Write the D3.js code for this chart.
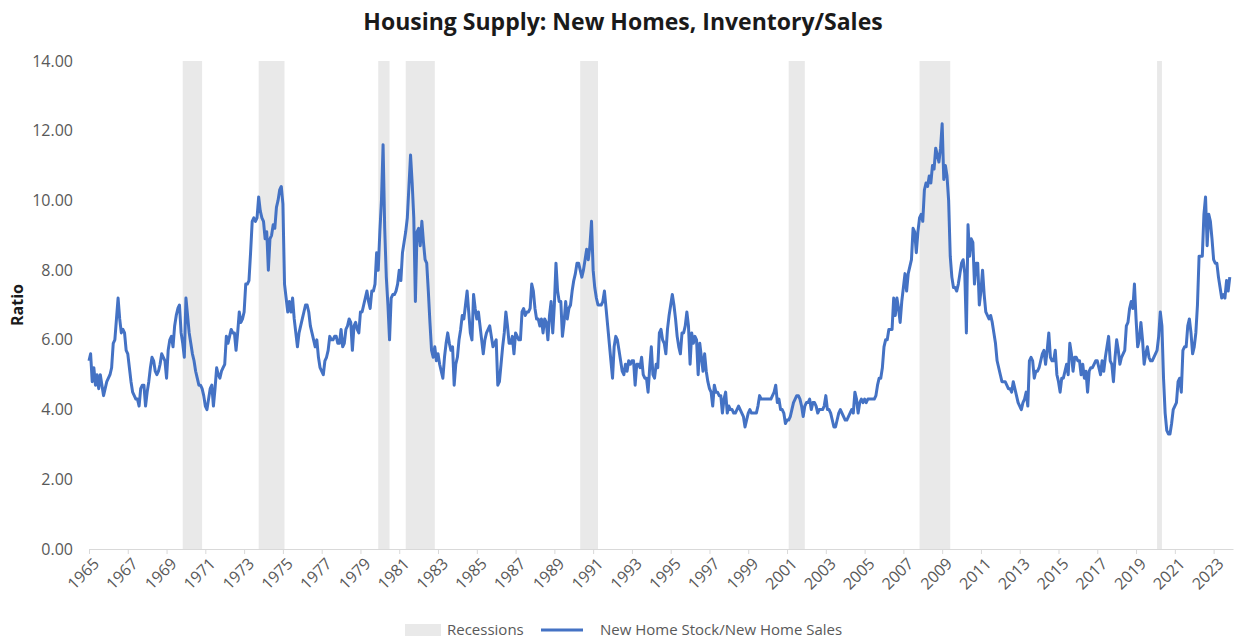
<!DOCTYPE html>
<html>
<head>
<meta charset="utf-8">
<script src="https://cdn.jsdelivr.net/npm/d3@7"></script>
<style>
  body { margin: 0; background: #fff; }
  svg { display: block; font-family: "Open Sans", "Noto Sans", sans-serif; }
</style>
</head>
<body>
<div id="chart"></div>
<script>

// monthly months-of-supply ratio, Jan 1965 .. Nov 2023 (one row per year)
var startYear = 1965;
var ratio = [
  5.4, 5.6, 4.8, 5.2, 4.7, 5.0, 4.6, 5.0, 4.7, 4.4, 4.6, 4.8,   // 1965
  4.9, 5.0, 5.2, 5.9, 6.0, 6.6, 7.2, 6.6, 6.2, 6.3, 6.2, 5.7,   // 1966
  5.6, 5.2, 4.8, 4.5, 4.4, 4.3, 4.3, 4.1, 4.6, 4.7, 4.7, 4.1,   // 1967
  4.5, 4.8, 5.2, 5.5, 5.4, 5.1, 5.0, 5.1, 5.3, 5.6, 5.5, 5.4,   // 1968
  4.9, 5.7, 6.0, 6.1, 5.8, 6.4, 6.7, 6.9, 7.0, 6.2, 5.9, 5.5,   // 1969
  7.2, 6.7, 6.2, 5.9, 5.6, 5.4, 5.1, 4.9, 4.7, 4.7, 4.6, 4.4,   // 1970
  4.1, 4.0, 4.3, 4.6, 4.7, 4.1, 4.6, 5.2, 5.0, 4.9, 5.1, 5.2,   // 1971
  5.3, 6.1, 5.9, 6.1, 6.3, 6.2, 6.2, 5.7, 6.2, 6.8, 6.5, 6.6,   // 1972
  6.8, 7.6, 7.6, 7.7, 8.5, 9.4, 9.5, 9.4, 9.5, 10.1, 9.7, 9.5,  // 1973
  9.4, 8.9, 9.1, 8.0, 8.9, 9.0, 9.3, 9.2, 9.8, 10.0, 10.3, 10.4, // 1974
  9.9, 7.6, 7.2, 6.8, 7.1, 6.8, 7.2, 6.6, 6.2, 5.8, 6.2, 6.4,   // 1975
  6.6, 6.8, 7.0, 7.0, 6.8, 6.4, 6.2, 6.0, 5.8, 6.0, 5.5, 5.2,   // 1976
  5.1, 5.0, 5.4, 5.5, 5.7, 6.1, 6.0, 6.0, 6.1, 6.1, 5.9, 5.9,   // 1977
  6.3, 5.8, 5.9, 6.3, 6.4, 6.6, 6.5, 5.7, 6.4, 6.5, 6.3, 6.2,   // 1978
  6.8, 6.8, 7.0, 7.2, 7.4, 7.1, 6.9, 7.4, 7.4, 7.6, 8.5, 8.0,   // 1979
  9.1, 10.0, 11.6, 9.2, 7.8, 7.0, 6.0, 7.2, 7.3, 7.3, 7.4, 7.6, // 1980
  8.0, 7.7, 8.5, 8.8, 9.1, 9.5, 10.4, 11.3, 10.5, 9.5, 7.1, 9.1, // 1981
  9.2, 8.7, 9.4, 8.8, 8.3, 8.2, 7.4, 6.5, 5.7, 5.5, 5.8, 5.4,   // 1982
  5.6, 5.3, 5.1, 4.9, 5.5, 5.9, 6.2, 5.9, 5.7, 5.8, 4.7, 5.3,   // 1983
  5.5, 6.0, 6.3, 6.7, 6.6, 7.0, 7.4, 6.8, 6.2, 6.0, 7.3, 6.9,   // 1984
  6.6, 6.8, 6.4, 6.0, 5.6, 6.0, 6.2, 6.3, 6.4, 6.1, 5.8, 5.9,   // 1985
  6.0, 4.7, 4.8, 5.3, 5.8, 6.2, 6.8, 6.4, 5.9, 5.9, 6.1, 5.6,   // 1986
  6.2, 6.1, 6.0, 6.0, 6.8, 6.9, 6.7, 6.8, 6.8, 6.9, 7.6, 7.4,   // 1987
  6.9, 6.6, 6.6, 6.4, 6.6, 6.2, 6.6, 6.5, 6.0, 6.7, 7.1, 6.2,   // 1988
  7.0, 8.2, 7.4, 7.1, 7.1, 6.1, 6.5, 7.1, 6.6, 6.9, 7.0, 7.4,   // 1989
  7.7, 7.9, 8.2, 8.2, 8.0, 7.8, 8.0, 8.3, 8.6, 8.3, 8.7, 9.4,   // 1990
  8.0, 7.5, 7.2, 7.0, 7.0, 7.0, 7.1, 7.4, 6.9, 6.4, 5.9, 5.4,   // 1991
  4.9, 5.8, 6.1, 6.0, 5.7, 5.4, 5.1, 5.0, 5.3, 5.1, 5.4, 5.3,   // 1992
  5.4, 5.4, 4.7, 5.3, 5.3, 5.2, 5.5, 5.0, 4.9, 4.9, 4.5, 5.2,   // 1993
  5.8, 5.0, 4.9, 5.3, 5.2, 6.2, 6.3, 6.0, 5.9, 5.6, 6.3, 6.7,   // 1994
  7.0, 7.3, 7.0, 6.6, 6.1, 5.8, 5.6, 6.2, 6.2, 6.4, 6.8, 6.4,   // 1995
  5.3, 6.2, 5.9, 6.1, 6.0, 5.0, 5.9, 5.5, 5.1, 5.6, 5.1, 4.8,   // 1996
  4.6, 4.5, 4.1, 4.7, 4.5, 4.5, 4.4, 4.4, 3.9, 4.3, 4.5, 3.9,   // 1997
  4.1, 4.0, 4.0, 3.9, 3.9, 4.0, 4.1, 4.0, 3.9, 3.8, 3.5, 3.7,   // 1998
  3.9, 4.0, 3.9, 3.9, 3.9, 3.9, 4.1, 4.4, 4.3, 4.3, 4.3, 4.3,   // 1999
  4.3, 4.3, 4.3, 4.4, 4.5, 4.7, 4.2, 4.3, 4.0, 4.0, 3.9, 3.6,   // 2000
  3.7, 3.7, 3.8, 4.0, 4.2, 4.3, 4.4, 4.4, 4.3, 4.1, 3.8, 4.1,   // 2001
  4.2, 4.2, 4.3, 4.0, 4.2, 4.2, 4.1, 3.9, 4.0, 4.0, 4.0, 4.1,   // 2002
  4.4, 4.0, 4.0, 3.9, 3.7, 3.5, 3.5, 3.7, 3.9, 4.0, 3.9, 3.8,   // 2003
  3.7, 3.7, 3.8, 3.9, 4.0, 3.9, 4.5, 4.3, 3.9, 4.2, 4.3, 4.2,   // 2004
  4.3, 4.2, 4.3, 4.3, 4.3, 4.3, 4.3, 4.4, 4.7, 4.9, 4.9, 5.2,   // 2005
  5.8, 6.0, 6.0, 6.3, 6.3, 6.3, 7.2, 6.7, 7.2, 6.9, 6.5, 7.1,   // 2006
  7.5, 7.9, 7.4, 7.9, 8.1, 8.3, 9.2, 9.1, 8.5, 9.1, 9.5, 9.6,   // 2007
  9.4, 10.3, 10.5, 10.4, 10.7, 10.5, 11.0, 10.9, 11.5, 11.3, 11.1, 11.5, // 2008
  12.2, 10.6, 11.0, 10.7, 10.0, 8.4, 7.8, 7.5, 7.5, 7.4, 7.6, 7.9, // 2009
  8.2, 8.3, 7.9, 6.2, 9.3, 8.4, 8.9, 8.8, 7.6, 8.2, 8.2, 7.0,   // 2010
  7.4, 8.0, 7.3, 6.8, 6.7, 6.6, 6.7, 6.5, 6.2, 5.9, 5.4, 5.2,   // 2011
  5.0, 4.8, 4.8, 4.8, 4.7, 4.6, 4.6, 4.5, 4.8, 4.6, 4.4, 4.2,   // 2012
  4.1, 4.0, 4.2, 4.3, 4.5, 4.1, 5.4, 5.5, 5.4, 4.9, 5.1, 5.1,   // 2013
  5.2, 5.4, 5.6, 5.7, 5.3, 5.7, 6.2, 5.5, 5.4, 5.4, 5.7, 5.0,   // 2014
  4.8, 4.5, 4.9, 4.9, 5.1, 5.3, 5.0, 5.9, 5.6, 5.1, 5.5, 5.5,   // 2015
  5.4, 5.4, 5.0, 5.3, 4.9, 5.1, 4.5, 5.1, 5.2, 5.2, 5.3, 5.4,   // 2016
  5.4, 5.2, 5.0, 5.4, 5.1, 5.5, 5.8, 6.1, 5.4, 5.3, 4.8, 5.5,   // 2017
  6.0, 5.7, 5.3, 5.5, 5.6, 5.7, 6.4, 6.5, 6.9, 7.1, 6.9, 7.6,   // 2018
  6.6, 5.8, 6.0, 6.5, 6.0, 5.3, 5.6, 5.8, 5.5, 5.4, 5.4, 5.5,   // 2019
  5.6, 5.7, 6.1, 6.8, 6.4, 4.9, 3.9, 3.4, 3.3, 3.3, 3.6, 4.0,   // 2020
  4.1, 4.2, 4.8, 4.9, 4.5, 5.7, 5.8, 5.8, 6.4, 6.6, 6.2, 5.6,   // 2021
  5.8, 6.2, 7.0, 8.4, 8.4, 8.4, 9.6, 10.1, 8.7, 9.6, 9.4, 8.9,  // 2022
  8.3, 8.2, 8.2, 7.8, 7.5, 7.2, 7.3, 7.2, 7.7, 7.4, 7.8         // 2023
];

// recession periods (first month, last month)
var recessions = [
  ["1969-11", "1970-10"],
  ["1973-10", "1975-01"],
  ["1979-12", "1980-06"],
  ["1981-05", "1982-10"],
  ["1990-05", "1991-03"],
  ["2001-02", "2001-11"],
  ["2007-11", "2009-05"],
  ["2020-02", "2020-04"]
];

var yTicks = [0, 2, 4, 6, 8, 10, 12, 14];
var xTickYears = d3.range(1965, 2024, 2);

var title = "Housing Supply: New Homes, Inventory/Sales";
var yLabel = "Ratio";
var legendItems = ["Recessions", "New Home Stock/New Home Sales"];

var W = 1235, H = 639;
var plotLeft = 89, plotTop = 61, plotBottom = 549;
var pxPerMonth = 19.39 / 12;
var nMonths = 708;

function monthIndex(s) {
  var p = s.split("-");
  return (+p[0] - startYear) * 12 + (+p[1] - 1);
}

var svg = d3.select("#chart").append("svg")
  .attr("width", W)
  .attr("height", H);

var x = d3.scaleLinear()
  .domain([0, nMonths])
  .range([plotLeft, plotLeft + nMonths * pxPerMonth]);

var y = d3.scaleLinear()
  .domain([0, 14])
  .range([plotBottom, plotTop]);

// recession shading
svg.append("g").selectAll("rect")
  .data(recessions)
  .enter().append("rect")
  .attr("x", function(d) { return x(monthIndex(d[0])); })
  .attr("width", function(d) { return x(monthIndex(d[1]) + 1) - x(monthIndex(d[0])); })
  .attr("y", y(14))
  .attr("height", y(0) - y(14))
  .attr("fill", "#e9e9e9");

// y axis (labels only)
var yAxis = svg.append("g")
  .attr("transform", "translate(" + plotLeft + ",0)")
  .call(d3.axisLeft(y).tickValues(yTicks).tickSize(0).tickPadding(16)
    .tickFormat(d3.format(".2f")));
yAxis.select(".domain").remove();
yAxis.selectAll("text")
  .attr("fill", "#595959")
  .attr("font-size", 16)
  .attr("font-family", "Open Sans, sans-serif");

// x axis
var xAxis = svg.append("g")
  .attr("transform", "translate(0," + plotBottom + ")")
  .call(d3.axisBottom(x)
    .tickValues(xTickYears.map(function(yr) { return (yr - startYear) * 12; }))
    .tickSize(5)
    .tickSizeOuter(0)
    .tickFormat(function(d) { return startYear + d / 12; }));
xAxis.select(".domain").attr("stroke", "#d9d9d9");
xAxis.selectAll(".tick line").attr("stroke", "#d9d9d9");
xAxis.selectAll("text")
  .attr("fill", "#595959")
  .attr("font-size", 16)
  .attr("font-family", "Open Sans, sans-serif")
  .style("text-anchor", "end")
  .attr("dy", 0)
  .attr("transform", "translate(5,10) rotate(-45)");

// ratio line
var line = d3.line()
  .x(function(d, i) { return x(i); })
  .y(function(d) { return y(d); });

svg.append("path")
  .datum(ratio)
  .attr("fill", "none")
  .attr("stroke", "#4472c4")
  .attr("stroke-width", 3)
  .attr("stroke-linejoin", "round")
  .attr("d", line);

// title
svg.append("text")
  .attr("x", 623)
  .attr("y", 30)
  .attr("text-anchor", "middle")
  .attr("font-size", 23)
  .attr("font-weight", "bold")
  .attr("fill", "#1a1a1a")
  .text(title);

// y label
svg.append("text")
  .attr("transform", "translate(23," + ((plotTop + plotBottom) / 2) + ") rotate(-90)")
  .attr("text-anchor", "middle")
  .attr("font-size", 16)
  .attr("font-weight", "bold")
  .attr("fill", "#1a1a1a")
  .text(yLabel);

// legend
var legend = svg.append("g").attr("transform", "translate(0,630)");
legend.append("rect")
  .attr("x", 405).attr("y", -6)
  .attr("width", 36).attr("height", 12)
  .attr("fill", "#e9e9e9");
legend.append("text")
  .attr("x", 447).attr("y", 5)
  .attr("font-size", 15).attr("fill", "#595959")
  .text(legendItems[0]);
legend.append("line")
  .attr("x1", 541).attr("x2", 583)
  .attr("y1", 0).attr("y2", 0)
  .attr("stroke", "#4472c4").attr("stroke-width", 3);
legend.append("text")
  .attr("x", 600).attr("y", 5)
  .attr("font-size", 15).attr("fill", "#595959")
  .text(legendItems[1]);

</script>
</body>
</html>
